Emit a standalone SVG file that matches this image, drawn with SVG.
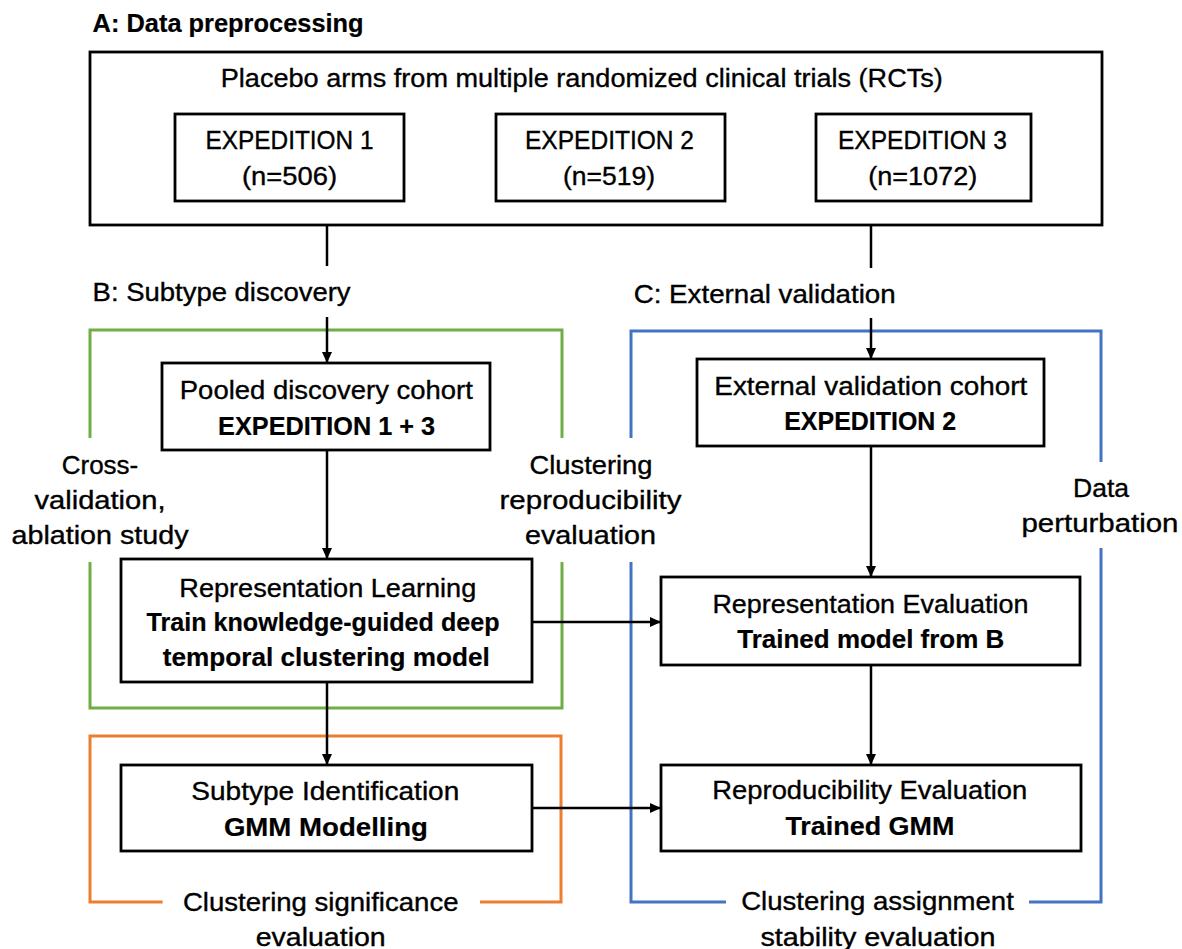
<svg xmlns="http://www.w3.org/2000/svg" width="1182" height="949" viewBox="0 0 1182 949">
<style>
text{font-family:"Liberation Sans",Arial,sans-serif;font-size:26px;fill:#000;text-anchor:middle;stroke:#000;stroke-width:0.35}
.b{font-weight:bold;stroke-width:0.2}
.s{text-anchor:start}
.m{font-size:25px}
.box{fill:#fff;stroke:#000;stroke-width:2.8}
.con{stroke:#000;stroke-width:2.5;fill:none}
.grp{fill:none;stroke-width:3}
</style>
<defs>
<marker id="ah" markerUnits="userSpaceOnUse" markerWidth="11" markerHeight="11" refX="11" refY="5.5" orient="auto">
<path d="M0,0.5 L11,5.5 L0,10.5 z" fill="#000"/>
</marker>
</defs>
<rect width="1182" height="949" fill="#fff"/>
<g id="labels">
<text class="b s" x="92.6" y="32" font-size="25" textLength="271" lengthAdjust="spacingAndGlyphs">A: Data preprocessing</text>
<text class="s m" x="92.6" y="301" textLength="258" lengthAdjust="spacingAndGlyphs">B: Subtype discovery</text>
<text class="s m" x="633.7" y="303" textLength="262" lengthAdjust="spacingAndGlyphs">C: External validation</text>
</g>
<g id="groups">
<path id="green" class="grp" stroke="#70AD47" d="M90,438 V330 H562 V438 M562,562 V708 H90 V562"/>
<path id="orange" class="grp" stroke="#ED7D31" d="M162.6,902 H90 V736 H561 V902 H480"/>
<path id="blue" class="grp" stroke="#4472C4" d="M631,438 V331 H1101 V462 M1101,548 V902 H1029 M726,902 H631 V562"/>
<text class="m" x="100" y="474" textLength="76.5" lengthAdjust="spacingAndGlyphs">Cross-</text>
<text class="m" x="100" y="509" textLength="131" lengthAdjust="spacingAndGlyphs">validation,</text>
<text class="m" x="100" y="544" textLength="177" lengthAdjust="spacingAndGlyphs">ablation study</text>
<text class="m" x="591" y="474" textLength="123" lengthAdjust="spacingAndGlyphs">Clustering</text>
<text class="m" x="590.5" y="509" textLength="182" lengthAdjust="spacingAndGlyphs">reproducibility</text>
<text class="m" x="590.5" y="544" textLength="131" lengthAdjust="spacingAndGlyphs">evaluation</text>
<text class="m" x="1101" y="497" textLength="56" lengthAdjust="spacingAndGlyphs">Data</text>
<text class="m" x="1100" y="532" textLength="157" lengthAdjust="spacingAndGlyphs">perturbation</text>
<text class="m" x="320.7" y="911" textLength="275.6" lengthAdjust="spacingAndGlyphs">Clustering significance</text>
<text class="m" x="320.7" y="946" textLength="130" lengthAdjust="spacingAndGlyphs">evaluation</text>
<text class="m" x="877.5" y="910" textLength="272.6" lengthAdjust="spacingAndGlyphs">Clustering assignment</text>
<text class="m" x="877.9" y="946" textLength="235" lengthAdjust="spacingAndGlyphs">stability evaluation</text>
</g>
<g id="connectors">
<line class="con" x1="327" y1="225" x2="327" y2="266"/>
<line class="con" x1="327" y1="317" x2="327" y2="363" marker-end="url(#ah)"/>
<line class="con" x1="871" y1="225" x2="871" y2="268"/>
<line class="con" x1="871" y1="318" x2="871" y2="359" marker-end="url(#ah)"/>
<line class="con" x1="327" y1="450" x2="327" y2="559" marker-end="url(#ah)"/>
<line class="con" x1="871" y1="446" x2="871" y2="577" marker-end="url(#ah)"/>
<line class="con" x1="327" y1="682" x2="327" y2="765" marker-end="url(#ah)"/>
<line class="con" x1="871" y1="665" x2="871" y2="765" marker-end="url(#ah)"/>
<line class="con" x1="532" y1="622" x2="661" y2="622" marker-end="url(#ah)"/>
<line class="con" x1="532" y1="808" x2="661" y2="808" marker-end="url(#ah)"/>
</g>
<g id="trials">
<rect class="box" x="90" y="52" width="1012" height="173" stroke-width="3"/>
<text class="s" x="220.8" y="87" font-size="24" textLength="722" lengthAdjust="spacingAndGlyphs">Placebo arms from multiple randomized clinical trials (RCTs)</text>
</g>
<g id="exp1">
<rect class="box" x="175" y="114" width="229" height="87"/>
<text class="m" x="289.5" y="149" textLength="168" lengthAdjust="spacingAndGlyphs">EXPEDITION 1</text>
<text class="m" x="289.5" y="185" textLength="95" lengthAdjust="spacingAndGlyphs">(n=506)</text>
</g>
<g id="exp2">
<rect class="box" x="496" y="114" width="229" height="87"/>
<text class="m" x="609.5" y="149" textLength="169" lengthAdjust="spacingAndGlyphs">EXPEDITION 2</text>
<text class="m" x="609" y="185" textLength="92" lengthAdjust="spacingAndGlyphs">(n=519)</text>
</g>
<g id="exp3">
<rect class="box" x="816" y="114" width="215" height="87"/>
<text class="m" x="922.5" y="149" textLength="169" lengthAdjust="spacingAndGlyphs">EXPEDITION 3</text>
<text class="m" x="922.7" y="185" textLength="109" lengthAdjust="spacingAndGlyphs">(n=1072)</text>
</g>
<g id="pooled">
<rect class="box" x="162" y="363" width="328" height="87"/>
<text x="326.3" y="399" textLength="293" lengthAdjust="spacingAndGlyphs">Pooled discovery cohort</text>
<text class="b" x="326.6" y="435" font-size="25" textLength="217" lengthAdjust="spacingAndGlyphs">EXPEDITION 1 + 3</text>
</g>
<g id="replearn">
<rect class="box" x="121" y="559" width="411" height="123"/>
<text x="327.8" y="597" textLength="297" lengthAdjust="spacingAndGlyphs">Representation Learning</text>
<text class="b" x="323" y="631" textLength="353" lengthAdjust="spacingAndGlyphs">Train knowledge-guided deep</text>
<text class="b" x="326.3" y="666" textLength="327" lengthAdjust="spacingAndGlyphs">temporal clustering model</text>
</g>
<g id="subtype">
<rect class="box" x="121" y="765" width="411" height="86"/>
<text x="325.3" y="800" textLength="268" lengthAdjust="spacingAndGlyphs">Subtype Identification</text>
<text class="b" x="325.9" y="836" textLength="204" lengthAdjust="spacingAndGlyphs">GMM Modelling</text>
</g>
<g id="extval">
<rect class="box" x="697" y="359" width="347" height="87"/>
<text x="870.8" y="395" textLength="313" lengthAdjust="spacingAndGlyphs">External validation cohort</text>
<text class="b" x="870.2" y="430" font-size="25" textLength="172" lengthAdjust="spacingAndGlyphs">EXPEDITION 2</text>
</g>
<g id="repeval">
<rect class="box" x="661" y="577" width="419" height="88"/>
<text x="870.4" y="613" textLength="316" lengthAdjust="spacingAndGlyphs">Representation Evaluation</text>
<text class="b" x="870.8" y="648" textLength="267" lengthAdjust="spacingAndGlyphs">Trained model from B</text>
</g>
<g id="reproeval">
<rect class="box" x="661" y="765" width="420" height="86"/>
<text x="869.8" y="799" textLength="315" lengthAdjust="spacingAndGlyphs">Reproducibility Evaluation</text>
<text class="b" x="869.9" y="835" textLength="169" lengthAdjust="spacingAndGlyphs">Trained GMM</text>
</g>
</svg>
